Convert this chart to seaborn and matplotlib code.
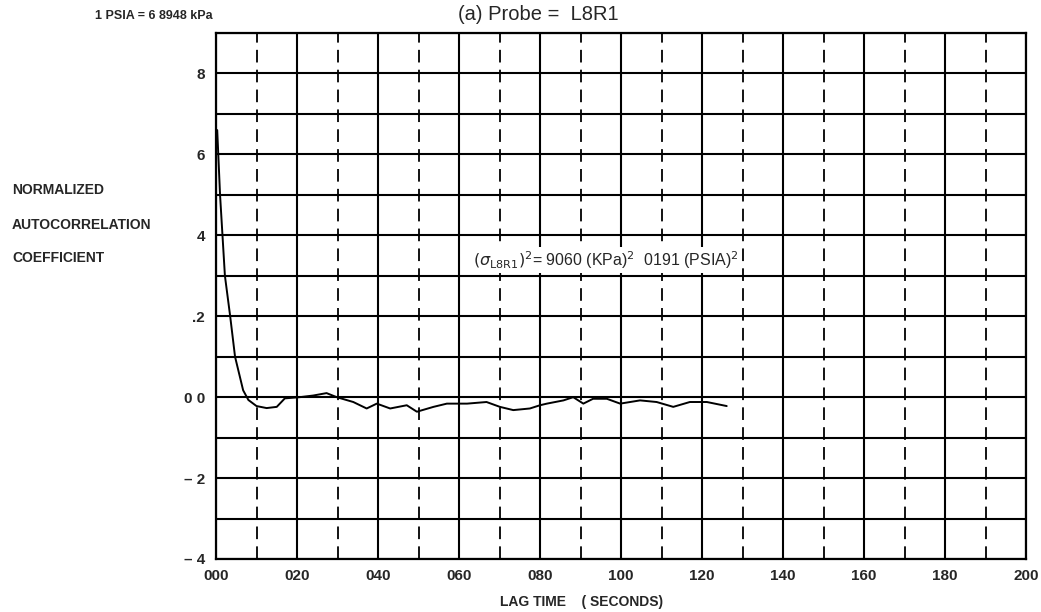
import numpy as np
import pandas as pd
import matplotlib
matplotlib.use('Agg')
import matplotlib.pyplot as plt
from matplotlib.ticker import MultipleLocator, FixedLocator
import seaborn as sns

# values
lag_time = [0.3, 1.0, 1.6, 2.2, 3.5, 4.7, 6.7, 8.0, 10.0, 12.5, 15.0, 17.0, 20.7, 24.0, 27.3,
            29.8, 33.9, 37.2, 39.7, 43.0, 47.1, 49.6, 53.7, 57.0, 62.0, 66.8, 70.1, 73.4,
            77.5, 80.0, 81.7, 85.8, 88.2, 90.7, 93.1, 96.5, 99.8, 104.7, 108.8, 112.9,
            117.0, 121.2, 126.1]
autocorr = [0.66, 0.50, 0.40, 0.30, 0.20, 0.10, 0.017, -0.007, -0.022, -0.027, -0.024,
            -0.003, 0.0, 0.004, 0.01, 0.0, -0.012, -0.028, -0.016, -0.028, -0.02, -0.036,
            -0.024, -0.016, -0.016, -0.012, -0.024, -0.032, -0.028, -0.02, -0.016, -0.008,
            0.0, -0.016, -0.004, -0.004, -0.016, -0.008, -0.012, -0.024, -0.012, -0.012,
            -0.022]

x_ticks = [0, 20, 40, 60, 80, 100, 120, 140, 160, 180, 200]
x_tick_labels = ['000', '020', '040', '060', '080', '100', '120', '140', '160', '180', '200']
y_ticks = [-0.4, -0.2, 0.0, 0.2, 0.4, 0.6, 0.8]
y_tick_labels = ['\u2013 4', '\u2013 2', '0 0', '.2', '4', '6', '8']

df = pd.DataFrame({'lag': lag_time, 'r': autocorr})

sns.set_style('white')
plt.rcParams['font.family'] = ['Liberation Sans', 'DejaVu Sans']

fig = plt.figure(figsize=(10.41, 6.12), dpi=100)
ax = fig.add_axes([216 / 1041, 1 - 559 / 612, (1026 - 216) / 1041, (559 - 33) / 612])

sns.lineplot(data=df, x='lag', y='r', ax=ax, color='black', linewidth=1.4)

ax.set_xlim(0, 200)
ax.set_ylim(-0.4, 0.9)

ax.xaxis.set_major_locator(FixedLocator(x_ticks))
ax.xaxis.set_minor_locator(MultipleLocator(10))
ax.yaxis.set_major_locator(FixedLocator(y_ticks))
ax.yaxis.set_minor_locator(MultipleLocator(0.1))
ax.set_xticklabels(x_tick_labels, fontsize=11, fontweight='bold')
ax.set_yticklabels(y_tick_labels, fontsize=11, fontweight='bold')
ax.tick_params(which='both', length=0)
ax.tick_params(axis='x', pad=7)
ax.tick_params(axis='y', pad=8)

ax.grid(True, axis='x', which='major', color='black', linewidth=1.5)
ax.grid(True, axis='x', which='minor', color='black', linewidth=1.3, linestyle=(0, (7, 4)))
ax.grid(True, axis='y', which='both', color='black', linewidth=1.5)
ax.set_axisbelow(True)
for s in ax.spines.values():
    s.set_color('black')
    s.set_linewidth(1.6)

ax.set_xlabel('')
ax.set_ylabel('')

ax.text(63.5, 0.338, r'$(\sigma_{\mathrm{L8R1}})^2$= 9060 (KPa)$^2$  0191 (PSIA)$^2$',
        fontsize=11.5, va='center', ha='left',
        bbox=dict(facecolor='white', edgecolor='none', pad=1.5))

fig.text(458 / 1041, 1 - 14 / 612, '(a) Probe =  L8R1', fontsize=14.5, va='center', ha='left')
fig.text(95 / 1041, 1 - 16 / 612, '1 PSIA = 6 8948 kPa', fontsize=9, fontweight='bold',
         va='center', ha='left')
fig.text(12 / 1041, 1 - 190 / 612, 'NORMALIZED', fontsize=10, fontweight='bold', va='center')
fig.text(12 / 1041, 1 - 225 / 612, 'AUTOCORRELATION', fontsize=10, fontweight='bold', va='center')
fig.text(12 / 1041, 1 - 258 / 612, 'COEFFICIENT', fontsize=10, fontweight='bold', va='center')
fig.text(500 / 1041, 1 - 602 / 612, 'LAG TIME    ( SECONDS)', fontsize=10, fontweight='bold',
         va='center', ha='left')

fig.savefig('out.png', dpi=100, facecolor='white')
